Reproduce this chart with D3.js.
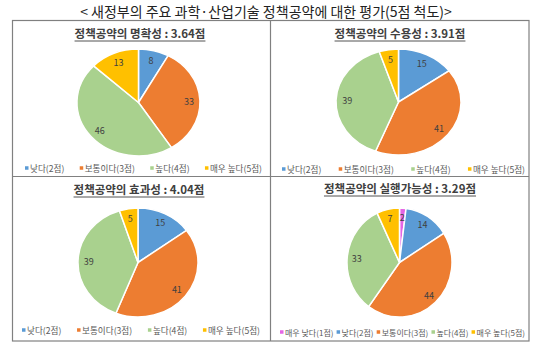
<!DOCTYPE html>
<html><head><meta charset="utf-8">
<script src="https://cdn.jsdelivr.net/npm/d3@7/dist/d3.min.js"></script>
<style>
html,body{margin:0;padding:0;background:#fff;}
svg{display:block;}
text{font-family:"Noto Sans CJK KR","Noto Sans",sans-serif;}
</style></head>
<body>
<svg id="chart" width="540" height="352"></svg>
<script>
// ---- data ----
const mainTitle = "< 새정부의 주요 과학·산업기술 정책공약에 대한 평가(5점 척도)>";
const panelTitles = ["정책공약의 명확성 : 3.64점", "정책공약의 수용성 : 3.91점", "정책공약의 효과성 : 4.04점", "정책공약의 실행가능성 : 3.29점"];
const categories4 = ["낮다(2점)", "보통이다(3점)", "높다(4점)", "매우 높다(5점)"];
const categories5 = ["매우 낮다(1점)", "낮다(2점)", "보통이다(3점)", "높다(4점)", "매우 높다(5점)"];
const clarityValues = [8, 33, 46, 13];
const acceptValues = [15, 41, 39, 5];
const effectValues = [15, 41, 39, 5];
const feasibleValues = [2, 14, 44, 33, 7];

// ---- styles / layout ----
const colorMap = {
  "매우 낮다(1점)": "#E565E5",
  "낮다(2점)": "#5B9BD5",
  "보통이다(3점)": "#ED7D31",
  "높다(4점)": "#A9D18E",
  "매우 높다(5점)": "#FFC000"
};
const panels = [
  {title: panelTitles[0], cats: categories4, vals: clarityValues, cx: 138.5, cy: 102.5, rx: 61.5, ry: 53.5, tx: 140, ty: 38, lx0: 25, lx1: 262, ly: 168, lfs: 8.6},
  {title: panelTitles[1], cats: categories4, vals: acceptValues, cx: 398.5, cy: 102, rx: 62.5, ry: 53, tx: 400, ty: 38, lx0: 282, lx1: 525, ly: 169, lfs: 8.6},
  {title: panelTitles[2], cats: categories4, vals: effectValues, cx: 138, cy: 262.5, rx: 60, ry: 54.5, tx: 139, ty: 194, lx0: 22, lx1: 260, ly: 330, lfs: 8.6},
  {title: panelTitles[3], cats: categories5, vals: feasibleValues, cx: 399.5, cy: 262.5, rx: 52.5, ry: 54.5, tx: 400, ty: 193, lx0: 280, lx1: 525, ly: 332, lfs: 8}
];

const svg = d3.select("#chart");

// main title
svg.append("text").attr("x", 266).attr("y", 17).attr("text-anchor", "middle")
  .attr("font-size", 14).attr("fill", "#222").text(mainTitle);

// frame
const frame = svg.append("g").attr("stroke", "#808080").attr("stroke-width", 1.2).attr("fill", "none");
frame.append("rect").attr("x", 12.5).attr("y", 20.5).attr("width", 516.5).attr("height", 320.5);
frame.append("line").attr("x1", 270.5).attr("x2", 270.5).attr("y1", 20.5).attr("y2", 341);
frame.append("line").attr("x1", 12.5).attr("x2", 529).attr("y1", 176.5).attr("y2", 176.5);

const pie = d3.pie().sort(null).value(d => d.v).startAngle(0).endAngle(2 * Math.PI);
const arcUnit = d3.arc().innerRadius(0).outerRadius(1);
const labelArc = d3.arc().innerRadius(0.82).outerRadius(0.82);

panels.forEach(p => {
  const data = p.cats.map((c, i) => ({c, v: p.vals[i]}));
  const g = svg.append("g");

  // title
  const t = g.append("text").attr("x", p.tx).attr("y", p.ty).attr("text-anchor", "middle")
    .attr("font-size", 11.5).attr("font-weight", "bold").attr("fill", "#404040").text(p.title);
  const tw = t.node().getComputedTextLength();
  g.append("line").attr("x1", p.tx - tw / 2).attr("x2", p.tx + tw / 2)
    .attr("y1", p.ty + 3).attr("y2", p.ty + 3).attr("stroke", "#404040").attr("stroke-width", 0.9);

  // pie
  const arcs = pie(data);
  const pg = g.append("g").attr("transform", `translate(${p.cx},${p.cy}) scale(${p.rx},${p.ry})`);
  pg.selectAll("path").data(arcs).join("path")
    .attr("d", arcUnit)
    .attr("fill", d => colorMap[d.data.c])
    .attr("stroke", "#fff").attr("stroke-width", 1.5)
    .attr("vector-effect", "non-scaling-stroke");

  g.selectAll("text.lbl").data(arcs).join("text").attr("class", "lbl")
    .attr("x", d => p.cx + labelArc.centroid(d)[0] * p.rx)
    .attr("y", d => p.cy + labelArc.centroid(d)[1] * p.ry)
    .attr("text-anchor", "middle").attr("dominant-baseline", "central")
    .attr("font-size", 9).attr("fill", "#404040")
    .text(d => d.data.v);

  // legend
  const lg = g.append("g");
  const items = lg.selectAll("g").data(p.cats).join("g");
  items.append("rect").attr("width", 3.5).attr("height", 3.5).attr("y", -1.75)
    .attr("fill", d => colorMap[d]);
  items.append("text").attr("x", 5).attr("dominant-baseline", "central")
    .attr("font-size", p.lfs).attr("fill", "#595959").text(d => d);
  const widths = items.nodes().map(n => 5 + d3.select(n).select("text").node().getComputedTextLength());
  const total = d3.sum(widths);
  const gap = (p.lx1 - p.lx0 - total) / (p.cats.length - 1);
  let x = p.lx0;
  items.each(function(d, i) {
    d3.select(this).attr("transform", `translate(${x},${p.ly})`);
    x += widths[i] + gap;
  });
});
</script>
</body></html>
